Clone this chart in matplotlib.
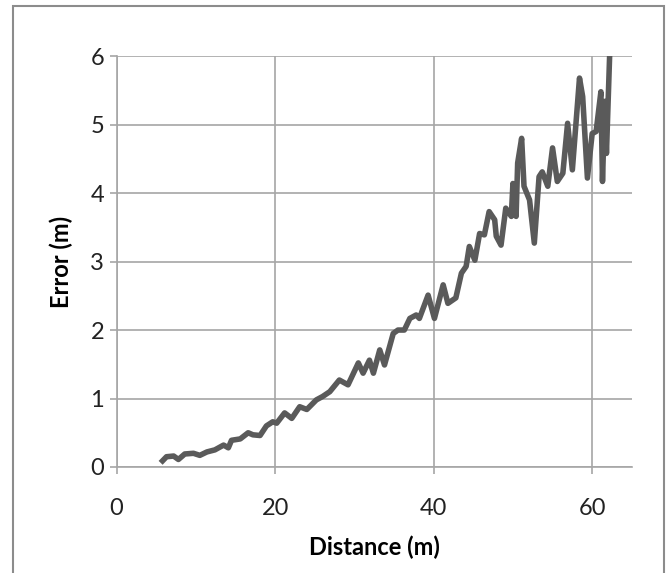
import numpy as np
import matplotlib.pyplot as plt
from matplotlib.patches import Rectangle

# Error vs distance
distance = [5.8, 6.3, 7.2, 7.8, 8.6, 9.7, 10.5, 11.4, 12.4, 13.5, 14.1, 14.5,
            15.6, 16.6, 17.2, 18.1, 18.9, 19.7, 20.2, 21.2, 22.1, 23.1, 24.0,
            25.2, 26.0, 26.9, 28.1, 29.2, 30.5, 31.1, 31.9, 32.4, 33.2, 33.8,
            34.9, 35.5, 36.3, 37.0, 37.8, 38.2, 39.3, 40.1, 41.2, 41.8, 42.8,
            43.5, 44.1, 44.5, 45.2, 45.8, 46.4, 47.0, 47.7, 47.9, 48.5, 49.1,
            49.8, 50.0, 50.4, 50.6, 51.1, 51.4, 52.1, 52.7, 53.3, 53.7, 54.4,
            55.0, 55.6, 56.3, 56.9, 57.5, 58.4, 58.8, 59.4, 60.0, 60.5, 61.1,
            61.3, 61.6, 61.8, 62.2]
error = [0.09, 0.15, 0.16, 0.11, 0.19, 0.20, 0.17, 0.22, 0.25, 0.32, 0.28, 0.39,
         0.41, 0.50, 0.47, 0.46, 0.60, 0.66, 0.64, 0.79, 0.71, 0.88, 0.84,
         0.98, 1.03, 1.10, 1.27, 1.20, 1.52, 1.37, 1.56, 1.37, 1.71, 1.49,
         1.95, 2.00, 2.00, 2.17, 2.22, 2.17, 2.51, 2.17, 2.66, 2.39, 2.47,
         2.83, 2.93, 3.22, 3.02, 3.41, 3.39, 3.73, 3.61, 3.37, 3.24, 3.78,
         3.66, 4.14, 3.66, 4.44, 4.80, 4.10, 3.90, 3.27, 4.24, 4.31, 4.10,
         4.66, 4.17, 4.29, 5.02, 4.34, 5.68, 5.41, 4.22, 4.87, 4.90, 5.48,
         4.17, 5.34, 4.58, 6.00]

x_ticks = [0, 20, 40, 60]
y_ticks = [0, 1, 2, 3, 4, 5, 6]

plt.rcParams['font.family'] = ['Lato', 'DejaVu Sans']

fig = plt.figure(figsize=(6.7, 5.73), dpi=100)
ax = fig.add_axes([0.174, 0.185, 0.769, 0.717])

ax.plot(distance, error, color='#5a5a5a', lw=4, solid_joinstyle='round')

ax.set_xlim(0, 65)
ax.set_ylim(0, 6)
ax.set_xticks(x_ticks)
ax.set_yticks(y_ticks)
ax.grid(True, color='#a6a6a6', lw=1.2)
ax.set_axisbelow(True)
for s in ['top', 'right']:
    ax.spines[s].set_visible(False)
for s in ['left', 'bottom']:
    ax.spines[s].set_color('#a6a6a6')
    ax.spines[s].set_linewidth(1.2)
ax.tick_params(direction='out', length=5, width=1.2, color='#a6a6a6',
               labelsize=17, labelcolor='#222222')
ax.tick_params(axis='x', pad=17)
ax.tick_params(axis='y', pad=4)

ax.set_xlabel('Distance (m)', fontsize=17, fontweight='bold', labelpad=12)
ax.set_ylabel('Error (m)', fontsize=17, fontweight='bold', labelpad=12)

# outer chart frame
fig.patches.append(Rectangle((13/670, -0.1), 651/670, 1.1 - 6/573,
                             transform=fig.transFigure, fill=False,
                             edgecolor='#8c8c8c', lw=1.5))

fig.savefig('out.png', dpi=100)
